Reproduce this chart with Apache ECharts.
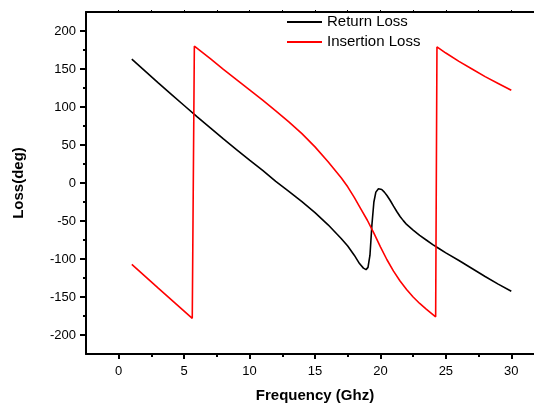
<!DOCTYPE html>
<html>
<head>
<meta charset="utf-8">
<script src="https://cdn.jsdelivr.net/npm/echarts@6/dist/echarts.min.js"></script>
<style>
html,body{margin:0;padding:0;background:#fff;}
#chart{width:534px;height:404px;}
</style>
</head>
<body>
<div id="chart"></div>
<script>
// ---- data ----
var returnFreq = [1,2,3,4,5,6,7,8,9,10,11,12,13,14,15,16,17,17.5,18,18.4,18.7,18.9,19.05,19.2,19.35,19.5,19.65,19.85,20.1,20.3,20.5,20.75,21,21.25,21.5,21.75,22,22.5,23,23.5,24,24.5,25,26,27,28,29,30];
var returnLoss = [163,147.5,132,117,102,87,72.5,58,44,30,16.5,2,-11,-24.5,-39,-55,-73,-83,-95,-106,-112,-114,-111,-95,-55,-25,-12,-7.5,-8.5,-12,-16.5,-23,-30.5,-37.5,-44,-49.5,-54.5,-62,-69,-75,-81,-86.5,-92,-102,-112.5,-123,-133,-142.5];
var insFreq = [1,3,5.62,5.78,7,8,9,10,11,12,13,14,15,16,17,17.5,18,18.5,19,19.5,20,20.5,21,21.5,22,22.5,23,23.5,24.22,24.32,25,26,27,28,29,30];
var insLoss = [-107,-138,-178,180,163.5,149.5,136,122.5,109,95,80.5,65,47.5,28,7,-5,-19,-34,-49,-66,-84,-101,-116,-129,-140,-150,-158.5,-166,-176,179,171,160,150,140,131,122];
var xMajorTicks = [0,5,10,15,20,25,30];
var xMinorTicks = [2.5,7.5,12.5,17.5,22.5,27.5,32.5];
var yMajorTicks = [-200,-150,-100,-50,0,50,100,150,200];
var yMinorTicks = [-175,-125,-75,-25,25,75,125,175];
var seriesNames = ['Return Loss','Insertion Loss'];

function zip(a,b){ return a.map(function(v,i){ return [v,b[i]]; }); }

var FONT = '"Liberation Sans", Arial, sans-serif';
var chart = echarts.init(document.getElementById('chart'), null, {renderer:'canvas'});
var allTop = xMajorTicks.concat(xMinorTicks);

chart.setOption({
  animation:false,
  backgroundColor:'#fff',
  grid:{left:86, top:12, width:458, height:342, containLabel:false, outerBoundsMode:'none'},
  legend:{
    orient:'vertical', left:287, top:12, itemGap:0, padding:0,
    itemWidth:35, itemHeight:2, icon:'rect',
    textStyle:{fontFamily:FONT, fontSize:15, color:'#000', lineHeight:20},
    data:seriesNames
  },
  xAxis:[
    {type:'value', position:'bottom', min:-2.5, max:32.5,
     axisLine:{onZero:false, lineStyle:{color:'#000', width:2}},
     axisTick:{customValues:xMajorTicks, length:5, lineStyle:{color:'#000', width:2}},
     axisLabel:{customValues:xMajorTicks, margin:11, fontFamily:FONT, fontSize:13, color:'#000'},
     splitLine:{show:false},
     name:'Frequency (Ghz)', nameLocation:'middle', nameGap:34,
     nameTextStyle:{fontFamily:FONT, fontSize:15, fontWeight:'bold', color:'#000'}
    },
    {type:'value', position:'bottom', min:-2.5, max:32.5,
     axisLine:{show:false, onZero:false},
     axisTick:{customValues:xMinorTicks, length:3, lineStyle:{color:'#000', width:2}},
     axisLabel:{show:false}, splitLine:{show:false}
    },
    {type:'value', position:'top', min:-2.5, max:32.5,
     axisLine:{onZero:false, lineStyle:{color:'#000', width:2}},
     axisTick:{customValues:allTop, length:2, lineStyle:{color:'#000', width:1}},
     axisLabel:{show:false}, splitLine:{show:false}
    }
  ],
  yAxis:[
    {type:'value', position:'left', min:-225, max:225,
     axisLine:{onZero:false, lineStyle:{color:'#000', width:2}},
     axisTick:{customValues:yMajorTicks, length:6, lineStyle:{color:'#000', width:2}},
     axisLabel:{customValues:yMajorTicks, margin:10, fontFamily:FONT, fontSize:13, color:'#000'},
     splitLine:{show:false},
     name:'Loss(deg)', nameLocation:'middle', nameGap:60,
     nameTextStyle:{fontFamily:FONT, fontSize:15, fontWeight:'bold', color:'#000'}
    },
    {type:'value', position:'left', min:-225, max:225,
     axisLine:{show:false, onZero:false},
     axisTick:{customValues:yMinorTicks, length:3, lineStyle:{color:'#000', width:2}},
     axisLabel:{show:false}, splitLine:{show:false}
    }
  ],
  series:[
    {name:seriesNames[0], type:'line', xAxisIndex:0, yAxisIndex:0, data:zip(returnFreq, returnLoss),
     showSymbol:false, symbol:'none', smooth:false, lineStyle:{color:'#000', width:1.6}, itemStyle:{color:'#000'}},
    {name:seriesNames[1], type:'line', xAxisIndex:0, yAxisIndex:0, data:zip(insFreq, insLoss),
     showSymbol:false, symbol:'none', smooth:false, lineStyle:{color:'#ff0000', width:1.6}, itemStyle:{color:'#ff0000'}}
  ]
});
</script>
</body>
</html>
